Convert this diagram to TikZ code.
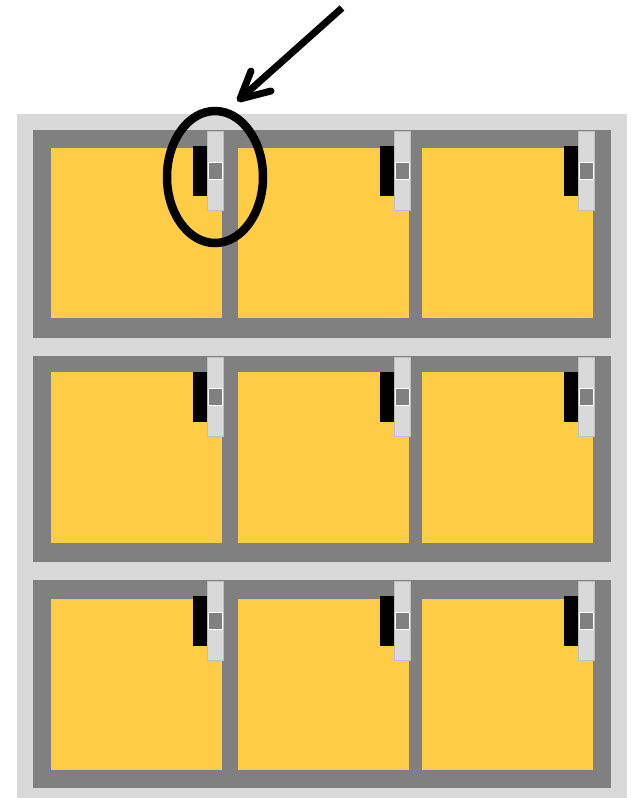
\documentclass[tikz,border=0pt]{standalone}
\usetikzlibrary{calc,shapes.geometric}
\definecolor{lgray}{HTML}{D9D9D9}
\definecolor{dgray}{HTML}{808080}
\definecolor{cellyellow}{HTML}{FFCD45}
\definecolor{barborder}{HTML}{BFBFBF}
\begin{document}
\begin{tikzpicture}[x=1pt,y=-1pt,
  outerbox/.style={fill=lgray,draw=none},
  framebox/.style={fill=dgray,draw=none},
  cellbox/.style={fill=cellyellow,draw=none},
  handle/.style={fill=black,draw=none},
  latchbar/.style={fill=lgray,draw=barborder,line width=1.5pt},
  latchsq/.style={fill=dgray,draw=white,line width=1pt},
  ring/.style={draw=black,line width=8.5pt},
  pointer/.style={draw=black,line width=7pt}]
\useasboundingbox (0,0) rectangle (633,798);
\fill[white] (0,0) rectangle (633,798);
% outer light gray case
\path[outerbox] (17,114) rectangle (627,798);
% rows
\foreach \rt/\rb/\yt/\yb [count=\r] in {130/338/148/318, 356/562/372/543, 580/788/599/770}{
  \path[framebox] (33,\rt) rectangle (611,\rb);
  \foreach \xl/\xr [count=\c] in {51/222, 238/409, 422/593}{
    \path[cellbox] (\xl,\yt) rectangle (\xr,\yb);
    % latch
    \path[handle] ({\xr-29},{\rt+16}) rectangle ({\xr-15},{\rt+66});
    \path[latchbar] ({\xr-14.5},{\rt+1.5}) rectangle ({\xr+1.5},{\rt+80.5});
    \path[latchsq] ({\xr-13.5},{\rt+32}) rectangle ({\xr+0.5},{\rt+49});
  }
}
% highlight ring
\node[ring,ellipse,minimum width=96pt,minimum height=132pt,inner sep=0pt] (ring) at (215,177) {};
% arrow
\coordinate (tail) at (342,8);
\coordinate (tip) at (240,99);
\coordinate (barbA) at (251,71);
\coordinate (barbB) at (271,91);
\draw[pointer] (tail) -- (tip);
\draw[pointer,line cap=round,line join=round] (barbA) -- (tip) -- (barbB);
\end{tikzpicture}
\end{document}
